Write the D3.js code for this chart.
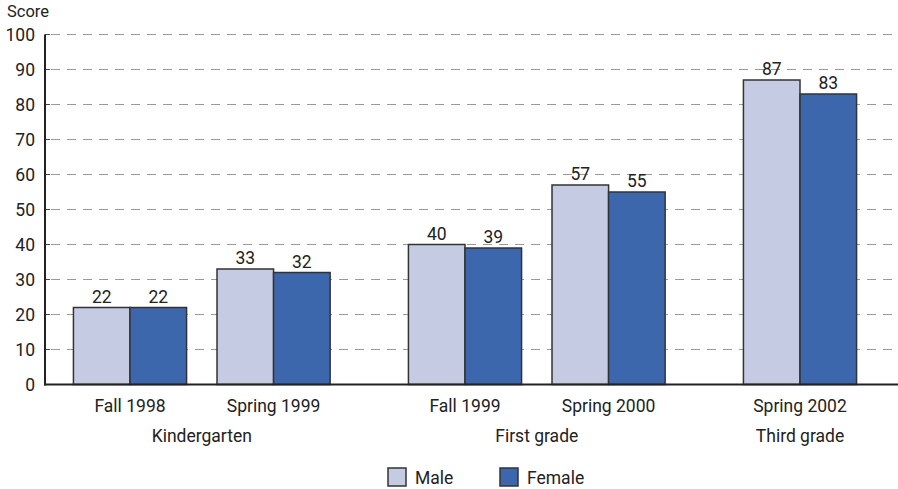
<!DOCTYPE html>
<html>
<head>
<meta charset="utf-8">
<script src="https://cdn.jsdelivr.net/npm/d3@7"></script>
<style>
  html, body { margin: 0; padding: 0; background: #fff; }
  svg { display: block; font-family: Roboto, "Noto Sans", sans-serif; }
</style>
</head>
<body>
<svg id="chart" width="898" height="489"></svg>
<script>
// ---- Data ----
const categories = ["Fall 1998", "Spring 1999", "Fall 1999", "Spring 2000", "Spring 2002"];
const groups = ["Kindergarten", "Kindergarten", "First grade", "First grade", "Third grade"];
const groupNames = ["Kindergarten", "First grade", "Third grade"];
const seriesNames = ["Male", "Female"];
const maleValues = [22, 33, 40, 57, 87];
const femaleValues = [22, 32, 39, 55, 83];
const yTicks = [0, 10, 20, 30, 40, 50, 60, 70, 80, 90, 100];
const yLabel = "Score";

// ---- Layout ----
const W = 898, H = 489;
const axisX = 45, baseY = 384.5, topY = 34.5;
const colors = { Male: "#c5cbe3", Female: "#3d67ad" };
const groupGap = 1 / 3;
const fontSize = 17.5;

const svg = d3.select("#chart");

// slot positions including gaps between grade groups
const slotPos = categories.map((c, i) => i + groupNames.indexOf(groups[i]) * groupGap);
const x = d3.scaleLinear()
  .domain([0, slotPos[slotPos.length - 1]])
  .range([130, 800]);
const slotWidth = x(1) - x(0);
const barW = slotWidth * 0.394;

const y = d3.scaleLinear().domain([0, 100]).range([baseY, topY]);

// gridlines
svg.append("g")
  .selectAll("line")
  .data(yTicks.filter(t => t > 0))
  .join("line")
  .attr("x1", axisX).attr("x2", W)
  .attr("y1", d => y(d)).attr("y2", d => y(d))
  .attr("stroke", "#9a9a9a")
  .attr("stroke-width", 1)
  .attr("stroke-dasharray", "9,7")
  .attr("stroke-dashoffset", -6);

// y axis
const yAxis = d3.axisLeft(y).tickValues(yTicks).tickSize(0).tickPadding(10);
const gy = svg.append("g").attr("transform", `translate(${axisX},0)`).call(yAxis);
gy.select(".domain").remove();
gy.selectAll("text")
  .attr("font-size", fontSize)
  .attr("fill", "#222")
  .attr("font-family", "Roboto, sans-serif");
// small tick stubs right of axis
svg.append("g").selectAll("line")
  .data(yTicks.filter(t => t > 0))
  .join("line")
  .attr("x1", axisX).attr("x2", axisX + 5)
  .attr("y1", d => y(d)).attr("y2", d => y(d))
  .attr("stroke", "#444").attr("stroke-width", 1);

// bars
const barData = [];
categories.forEach((c, i) => {
  barData.push({ cat: i, series: "Male", value: maleValues[i] });
  barData.push({ cat: i, series: "Female", value: femaleValues[i] });
});
const barX = d => x(slotPos[d.cat]) + (d.series === "Male" ? -barW : 0);

svg.append("g").selectAll("rect")
  .data(barData)
  .join("rect")
  .attr("x", barX)
  .attr("y", d => y(d.value))
  .attr("width", barW)
  .attr("height", d => y(0) - y(d.value))
  .attr("fill", d => colors[d.series])
  .attr("stroke", "#333")
  .attr("stroke-width", 1.5);

// value labels
svg.append("g").selectAll("text")
  .data(barData)
  .join("text")
  .attr("x", d => barX(d) + barW / 2)
  .attr("y", d => y(d.value) - 5)
  .attr("text-anchor", "middle")
  .attr("font-size", fontSize)
  .attr("fill", "#222")
  .text(d => d.value);

// axes lines
svg.append("line")
  .attr("x1", axisX).attr("x2", axisX)
  .attr("y1", topY).attr("y2", baseY + 1)
  .attr("stroke", "#222").attr("stroke-width", 2);
svg.append("line")
  .attr("x1", axisX - 1).attr("x2", W)
  .attr("y1", baseY).attr("y2", baseY)
  .attr("stroke", "#222").attr("stroke-width", 2);

// category labels
svg.append("g").selectAll("text")
  .data(categories)
  .join("text")
  .attr("x", (d, i) => x(slotPos[i]))
  .attr("y", 411.5)
  .attr("text-anchor", "middle")
  .attr("font-size", fontSize)
  .attr("fill", "#222")
  .text(d => d);

// group labels
svg.append("g").selectAll("text")
  .data(groupNames)
  .join("text")
  .attr("x", g => {
    const idx = categories.map((c, i) => i).filter(i => groups[i] === g);
    return d3.mean(idx, i => x(slotPos[i]));
  })
  .attr("y", 441.5)
  .attr("text-anchor", "middle")
  .attr("font-size", fontSize)
  .attr("fill", "#222")
  .text(d => d);

// y label
svg.append("text")
  .attr("x", 7).attr("y", 17)
  .attr("font-size", fontSize - 1)
  .attr("fill", "#222")
  .text(yLabel);

// legend
const legendX = [388, 500];
const lg = svg.append("g").selectAll("g")
  .data(seriesNames)
  .join("g")
  .attr("transform", (d, i) => `translate(${legendX[i]},468)`);
lg.append("rect")
  .attr("width", 18).attr("height", 18)
  .attr("fill", d => colors[d])
  .attr("stroke", "#333").attr("stroke-width", 1.5);
lg.append("text")
  .attr("x", 27).attr("y", 15.5)
  .attr("font-size", fontSize)
  .attr("fill", "#222")
  .text(d => d);
</script>
</body>
</html>
